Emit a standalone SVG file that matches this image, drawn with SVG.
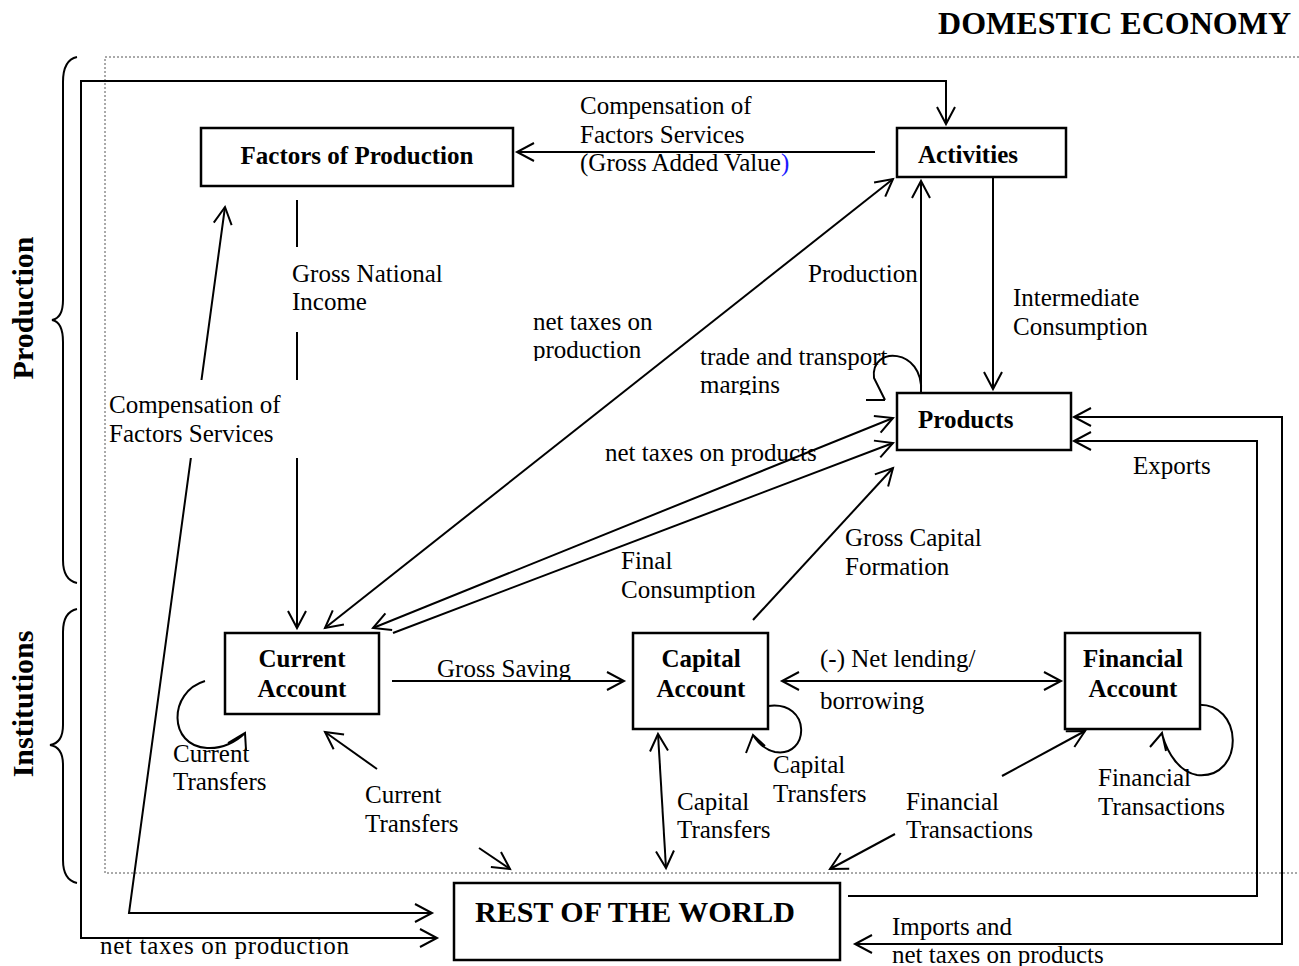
<svg xmlns="http://www.w3.org/2000/svg" width="1299" height="966" viewBox="0 0 1299 966">
<style>
text{font-family:"Liberation Serif","Times New Roman",serif;fill:#000}
.t{font-size:25px}
.b{font-size:25px;font-weight:bold}
.box{fill:#fff;stroke:#000;stroke-width:2.5}
.ln{fill:none;stroke:#000;stroke-width:2}
</style>
<defs>
<marker id="a" markerUnits="userSpaceOnUse" markerWidth="40" markerHeight="40" refX="0" refY="0" orient="auto-start-reverse" overflow="visible">
<path d="M-17,-9 L0,0 L-17,9" fill="none" stroke="#000" stroke-width="2"/>
</marker>
<clipPath id="c1"><rect x="500" y="300" width="200" height="61"/></clipPath>
<clipPath id="c2"><rect x="690" y="330" width="220" height="65"/></clipPath>
</defs>
<rect width="1299" height="966" fill="#fff"/>

<g id="frame">
<rect x="105" y="57" width="1210" height="816" fill="none" stroke="#555" stroke-width="1" stroke-dasharray="2,2"/>
<text x="1291" y="34" text-anchor="end" style="font-size:32px;font-weight:bold">DOMESTIC ECONOMY</text>
<path class="ln" d="M77,57 Q63,60 63,82 L63,300 Q63,318 52,320 Q63,322 63,342 L63,560 Q63,580 77,583"/>
<path class="ln" d="M77,609 Q63,612 63,632 L63,725 Q63,743 50,745 Q63,747 63,765 L63,860 Q63,880 77,883"/>
<text transform="translate(33,308) rotate(-90)" text-anchor="middle" style="font-size:30px;font-weight:bold">Production</text>
<text transform="translate(33,704) rotate(-90)" text-anchor="middle" style="font-size:30px;font-weight:bold">Institutions</text>
</g>

<g id="connectors">
<line class="ln" x1="875" y1="152" x2="517" y2="152" marker-end="url(#a)"/>
<line class="ln" x1="297" y1="200" x2="297" y2="247"/>
<line class="ln" x1="297" y1="332" x2="297" y2="380"/>
<line class="ln" x1="297" y1="458" x2="297" y2="628" marker-end="url(#a)"/>
<path class="ln" d="M432,913 L129,913 L225,207" marker-start="url(#a)" marker-end="url(#a)"/>
<path class="ln" d="M437,938 L81,938 L81,81 L946,81 L946,124" marker-start="url(#a)" marker-end="url(#a)"/>
<line class="ln" x1="921" y1="393" x2="921" y2="181" marker-end="url(#a)"/>
<line class="ln" x1="993" y1="177" x2="993" y2="389" marker-end="url(#a)"/>
<path class="ln" d="M921,392 C924,348 870,345 874,378 L885,400 M866,400 L885,400"/>
<line class="ln" x1="325" y1="628" x2="893" y2="179" marker-start="url(#a)" marker-end="url(#a)"/>
<line class="ln" x1="373" y1="628" x2="893" y2="418" marker-start="url(#a)" marker-end="url(#a)"/>
<line class="ln" x1="393" y1="633" x2="893" y2="443" marker-end="url(#a)"/>
<line class="ln" x1="753" y1="620" x2="893" y2="468" marker-end="url(#a)"/>
<path class="ln" d="M848,896 L1257,896 L1257,441 L1074,441" marker-end="url(#a)"/>
<path class="ln" d="M1074,417 L1282,417 L1282,944 L855,944" marker-start="url(#a)" marker-end="url(#a)"/>
<line class="ln" x1="392" y1="681" x2="624" y2="681" marker-end="url(#a)"/>
<line class="ln" x1="782" y1="681" x2="1061" y2="681" marker-start="url(#a)" marker-end="url(#a)"/>
<line class="ln" x1="658" y1="734" x2="666" y2="868" marker-start="url(#a)" marker-end="url(#a)"/>
<line class="ln" x1="377" y1="769" x2="325" y2="732" marker-end="url(#a)"/>
<line class="ln" x1="479" y1="848" x2="510" y2="869" marker-end="url(#a)"/>
<line class="ln" x1="1002" y1="776" x2="1085" y2="731" marker-end="url(#a)"/>
<line class="ln" x1="895" y1="834" x2="830" y2="869" marker-end="url(#a)"/>
<path class="ln" d="M205,681 C168,692 168,746 207,748 C222,749 236,742 245,733 M228,743 L245,733 L246,750"/>
<path class="ln" d="M768,706 C812,700 810,758 775,752 C766,750 758,743 753,735 M746,753 L753,735 L765,746"/>
<path class="ln" d="M1195,705 C1245,700 1245,780 1197,775 C1180,772 1168,755 1162,734 M1150,747 L1162,733 L1166,751"/>
<rect x="106" y="380" width="190" height="78" fill="#fff"/>
</g>

<g id="factors">
<rect class="box" x="201" y="128" width="312" height="58"/>
<text class="b" x="357" y="164" text-anchor="middle">Factors of Production</text>
</g>
<g id="activities">
<rect class="box" x="897" y="128" width="169" height="49"/>
<text class="b" x="918" y="163">Activities</text>
</g>
<g id="products">
<rect class="box" x="897" y="393" width="174" height="57"/>
<text class="b" x="918" y="428">Products</text>
</g>
<g id="current">
<rect class="box" x="225" y="633" width="154" height="81"/>
<text class="b" x="302" y="667" text-anchor="middle">Current</text>
<text class="b" x="302" y="697" text-anchor="middle">Account</text>
</g>
<g id="capital">
<rect class="box" x="633" y="633" width="135" height="96"/>
<text class="b" x="701" y="667" text-anchor="middle">Capital</text>
<text class="b" x="701" y="697" text-anchor="middle">Account</text>
</g>
<g id="financial">
<rect class="box" x="1065" y="633" width="135" height="96"/>
<text class="b" x="1133" y="667" text-anchor="middle">Financial</text>
<text class="b" x="1133" y="697" text-anchor="middle">Account</text>
</g>
<g id="row">
<rect class="box" x="454" y="883" width="386" height="77"/>
<text x="475" y="922" style="font-size:30px;font-weight:bold">REST OF THE WORLD</text>
</g>

<g id="labels">
<text class="t" x="580" y="114">Compensation of</text>
<text class="t" x="580" y="143">Factors Services</text>
<text class="t" x="580" y="171">(Gross Added Value<tspan fill="#1a1aff">)</tspan></text>
<text class="t" x="292" y="282">Gross National</text>
<text class="t" x="292" y="310">Income</text>
<g clip-path="url(#c1)">
<text class="t" x="533" y="330">net taxes on</text>
<text class="t" x="533" y="358">production</text>
</g>
<g clip-path="url(#c2)">
<text class="t" x="700" y="365">trade and transport</text>
<text class="t" x="700" y="393">margins</text>
</g>
<text class="t" x="808" y="282">Production</text>
<text class="t" x="1013" y="306">Intermediate</text>
<text class="t" x="1013" y="335">Consumption</text>
<text class="t" x="109" y="413">Compensation of</text>
<text class="t" x="109" y="442">Factors Services</text>
<text class="t" x="605" y="461">net taxes on products</text>
<text class="t" x="1133" y="474">Exports</text>
<text class="t" x="845" y="546">Gross Capital</text>
<text class="t" x="845" y="575">Formation</text>
<text class="t" x="621" y="569">Final</text>
<text class="t" x="621" y="598">Consumption</text>
<text class="t" x="437" y="677">Gross Saving</text>
<text class="t" x="820" y="667">(-) Net lending/</text>
<text class="t" x="820" y="709">borrowing</text>
<text class="t" x="173" y="762">Current</text>
<text class="t" x="173" y="790">Transfers</text>
<text class="t" x="365" y="803">Current</text>
<text class="t" x="365" y="832">Transfers</text>
<text class="t" x="677" y="810">Capital</text>
<text class="t" x="677" y="838">Transfers</text>
<text class="t" x="773" y="773">Capital</text>
<text class="t" x="773" y="802">Transfers</text>
<text class="t" x="906" y="810">Financial</text>
<text class="t" x="906" y="838">Transactions</text>
<text class="t" x="1098" y="786">Financial</text>
<text class="t" x="1098" y="815">Transactions</text>
<text class="t" x="892" y="935">Imports and</text>
<text class="t" x="892" y="963">net taxes on products</text>
<text class="t" x="100" y="954" textLength="249">net taxes on production</text>
</g>
</svg>
